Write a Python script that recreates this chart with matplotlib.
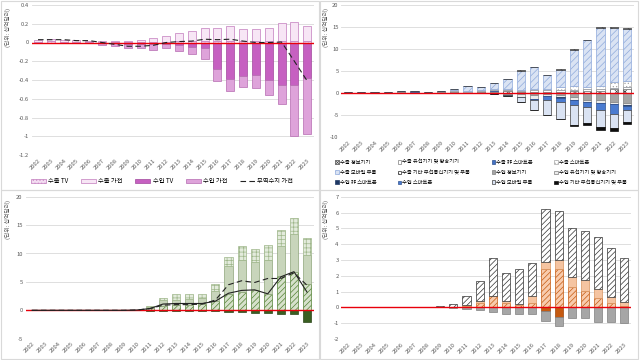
import numpy as np
import matplotlib
matplotlib.use("Agg")
import matplotlib.pyplot as plt
from matplotlib.patches import Patch, Rectangle
from matplotlib.lines import Line2D
from matplotlib.ticker import FuncFormatter, MultipleLocator

plt.rcParams['font.family'] = ['Noto Sans CJK KR', 'DejaVu Sans']
plt.rcParams['axes.unicode_minus'] = False
plt.rcParams['hatch.linewidth'] = 0.5

# years on the x axis
years = [str(y) for y in range(2002, 2024)]

# panel 1: TV / home appliances (unit: billion USD)
tv_exp = [0.01, 0.02, 0.01, 0.01, 0.01, 0.01, 0.01, 0.01, 0.01, 0.01, 0.01,
          0.02, 0.02, 0.02, 0.02, 0.02, 0.02, 0.02, 0.02, 0.02, 0.02, 0.02]
app_exp = [0.02, 0.02, 0.02, 0.02, 0.01, 0.01, 0.01, 0.01, 0.02, 0.04, 0.06,
           0.08, 0.10, 0.13, 0.14, 0.16, 0.12, 0.125, 0.14, 0.19, 0.20, 0.16]
tv_imp = [0, 0, 0, 0, 0, -0.01, -0.01, -0.02, -0.02, -0.02, -0.02,
          -0.03, -0.05, -0.06, -0.28, -0.39, -0.36, -0.35, -0.40, -0.45, -0.45, -0.38]
app_imp = [0, -0.01, -0.01, -0.01, -0.01, -0.02, -0.03, -0.04, -0.04, -0.06, -0.04,
           -0.06, -0.07, -0.12, -0.13, -0.13, -0.11, -0.13, -0.16, -0.21, -0.55, -0.60]
app_bal = [0.03, 0.03, 0.03, 0.02, 0.02, 0.0, -0.02, -0.04, -0.04, -0.03, 0.0,
           0.01, 0.015, 0.035, 0.03, 0.035, 0.015, 0.0, 0.0, 0.005, -0.2, -0.41]

# panel 2: ICT devices
ict_labels = ['수출 정보기기', '수출 유선기기 및 방송기기', '수출 非 스마트폰', '수출 스마트폰',
              '수출 모바일 부품', '수출 기타 무선통신기기 및 부품', '수입 정보기기', '수입 유선기기 및 방송기기',
              '수입 非 스마트폰', '수입 스마트폰', '수입 모바일 부품', '수입 기타 무선통신기기 및 부품']
exp_info = [0.1, 0.1, 0.1, 0.1, 0.2, 0.1, 0.1, 0.2, 0.2, 0.1, 0.2,
            0.3, 0.4, 0.3, 0.3, 0.3, 0.3, 0.4, 0.5, 0.5, 0.8, 1.0]
exp_wire = [0.05, 0.05, 0.1, 0.1, 0.2, 0.2, 0.1, 0.2, 0.2, 0.1, 0.2,
            0.2, 0.2, 0.2, 0.3, 0.3, 0.4, 0.3, 0.3, 0.3, 0.4, 0.4]
exp_nonsmart = [0.05, 0.05, 0.1, 0.1, 0.1, 0.1, 0.1, 0.1, 0.1, 0.1, 0.1,
                0.1, 0.1, 0.05, 0.05, 0.05, 0.05, 0.05, 0.05, 0.05, 0.05, 0.05]
exp_smart = [0, 0, 0, 0, 0, 0, 0, 0, 0.1, 0.1, 0.1,
             0.2, 0.1, 0.2, 0.3, 0.3, 0.6, 0.8, 0.6, 0.7, 1.2, 1.3]
exp_mobile = [0, 0, 0, 0, 0, 0, 0, 0, 0.4, 1.2, 0.8,
              1.5, 2.3, 4.35, 4.85, 3.15, 3.95, 8.25, 10.55, 13.25, 12.35, 11.85]
exp_etc = [0, 0, 0, 0, 0, 0, 0, 0, 0, 0, 0,
           0, 0, 0.1, 0.1, 0.1, 0.1, 0.1, 0.1, 0.1, 0.1, 0.1]
imp_info = [0, 0, 0, 0, 0, 0, 0, 0, 0, 0, -0.05,
            -0.1, -0.2, -0.3, -0.5, -0.3, -0.4, -0.8, -1.5, -1.7, -2.0, -2.3]
imp_wire = [0, 0, 0, 0, 0, 0, 0, 0, 0, 0, -0.05,
            -0.1, -0.2, -0.5, -0.8, -0.3, -0.6, -0.7, -0.5, -0.5, -0.4, -0.5]
imp_nonsmart = [0, 0, 0, 0, 0, 0, 0, 0, 0, 0, 0,
                0, 0, 0, -0.05, -0.05, -0.05, -0.05, -0.05, -0.05, -0.05, -0.05]
imp_smart = [0, 0, 0, 0, 0, 0, 0, 0, 0, 0, 0,
             0, 0, -0.1, -0.3, -1.0, -1.1, -1.2, -1.1, -1.7, -2.4, -1.1]
imp_mobile = [0, 0, 0, 0, 0, 0, 0, 0, 0, 0, 0,
              -0.1, -0.2, -1.1, -2.15, -3.25, -3.65, -4.55, -3.65, -3.75, -3.05, -2.65]
imp_etc = [0, 0, 0, 0, 0, 0, 0, 0, 0, 0, 0,
           0, 0, 0, 0, -0.1, -0.2, -0.3, -0.4, -0.6, -0.7, -0.5]

# panel 3: green stacked series
g_low = [0.02, 0.02, 0.02, 0.02, 0.02, 0.02, 0.02, 0.02, 0.05, 0.4, 0.8,
         1.0, 1.0, 1.1, 1.7, 2.8, 3.3, 3.5, 2.9, 6.0, 6.8, 4.7]
g_mid = [0, 0, 0, 0, 0, 0, 0, 0, 0.05, 0.2, 1.1,
         0.9, 1.0, 1.0, 1.7, 5.0, 5.6, 5.0, 6.0, 5.3, 6.6, 5.0]
g_top = [0, 0, 0, 0, 0, 0, 0, 0, 0, 0.1, 0.3,
         1.0, 0.9, 0.8, 1.3, 1.6, 2.4, 2.3, 2.6, 2.8, 2.8, 3.0]
g_neg = [0, 0, 0, 0, 0, 0, 0, 0, 0, -0.05, -0.05,
         -0.05, -0.05, -0.05, -0.05, -0.3, -0.3, -0.4, -0.5, -0.7, -0.7, -2.0]
g_dash = [0, 0, 0, 0, 0, 0, 0, 0, 0.05, 0.3, 0.9,
          1.0, 1.0, 1.1, 1.8, 4.5, 5.2, 4.9, 5.6, 5.6, 6.6, 4.4]
g_solid = [0, 0, 0, 0, 0, 0, 0, 0, 0.05, 0.3, 1.1,
           1.2, 1.2, 1.2, 1.6, 3.0, 3.5, 3.6, 2.9, 5.9, 6.8, 3.2]

# panel 4: orange / gray stacked series
o_low = [0.01, 0.01, 0.01, 0.01, 0.01, 0.01, 0.01, 0.05, 0.05, 0.1, 0.3,
         0.7, 0.3, 0.15, 0.3, 2.4, 2.4, 1.3, 1.05, 0.6, 0.3, 0.1]
o_mid = [0, 0, 0, 0, 0, 0, 0, 0, 0, 0.05, 0.1,
         0.05, 0.1, 0.05, 0.4, 0.5, 0.6, 0.65, 0.7, 0.55, 0.35, 0.25]
o_top = [0.02, 0.02, 0.03, 0.03, 0.03, 0.03, 0.03, 0.05, 0.15, 0.55, 1.25,
         2.35, 1.8, 2.2, 2.1, 3.3, 3.1, 3.05, 3.05, 3.3, 3.1, 2.75]
o_neg = [0, 0, 0, 0, 0, 0, 0, 0, 0, 0, 0,
         0, 0, 0, 0, -0.2, -0.6, 0, 0, 0, 0, 0]
o_gray = [0, 0, 0, 0, 0, 0, 0, 0, -0.05, -0.1, -0.15,
          -0.3, -0.4, -0.45, -0.4, -0.65, -0.6, -0.7, -0.7, -0.9, -0.95, -1.0]

x = np.arange(len(years))
W, H = 640, 360


def rect(l, r, t, b):
    return [l / W, 1 - b / H, (r - l) / W, (b - t) / H]


def setup(ax, lo, hi, step):
    ax.set_xlim(-0.5, len(years) - 0.5)
    ax.set_ylim(lo, hi)
    ax.yaxis.set_major_locator(MultipleLocator(step))
    ax.yaxis.set_major_formatter(FuncFormatter(lambda v, p: f"{round(v, 6) + 0.0:g}"))
    ax.grid(axis='y', color='#d9d9d9', lw=0.6)
    ax.set_axisbelow(True)
    for s in ax.spines.values():
        s.set_visible(False)
    ax.tick_params(length=0, labelsize=4.2, colors='#595959', pad=2)
    ax.set_xticks(x)
    ax.set_xticklabels(years, rotation=45, ha='right', rotation_mode='anchor')
    ax.axhline(0, color='#e8000b', lw=1.0, zorder=6)


def stack(ax, series, styles, width=0.62):
    pos = np.zeros(len(years))
    neg = np.zeros(len(years))
    for vals, st in zip(series, styles):
        v = np.array(vals, dtype=float)
        if v.sum() >= 0:
            ax.bar(x, v, width, bottom=pos, lw=0.5, zorder=3, **st)
            pos += v
        else:
            ax.bar(x, v, width, bottom=neg, lw=0.5, zorder=3, **st)
            neg += v


fig = plt.figure(figsize=(6.4, 3.6), dpi=100)

# chart area borders
for (l, t, w, h) in [(0.5, 0.5, 318, 189), (320, 0.5, 318, 189),
                     (0.5, 190, 318, 169), (320, 190, 318, 169)]:
    fig.add_artist(Rectangle((l / W, 1 - (t + h) / H), w / W, h / H,
                             transform=fig.transFigure, fill=False,
                             ec='#d9d9d9', lw=0.8))

# ---- panel 1
ax1 = fig.add_axes(rect(31.6, 313.6, 5, 155))
setup(ax1, -1.2, 0.4, 0.2)
st1 = [dict(color='#f3dcf1', edgecolor='#c27bbd', hatch='.....'),
       dict(color='#f7e6f5', edgecolor='#c27bbd'),
       dict(color='#c660c1', edgecolor='#a1479c'),
       dict(color='#dea3da', edgecolor='#b56bb0')]
stack(ax1, [tv_exp, app_exp, tv_imp, app_imp], st1)
ax1.plot(x, app_bal, color='#222222', ls=(0, (5, 3)), lw=0.8, zorder=7)
h1 = [Patch(facecolor=s['color'], edgecolor=s['edgecolor'], hatch=s.get('hatch'), lw=0.5) for s in st1]
h1.append(Line2D([], [], color='#222222', ls=(0, (5, 3)), lw=0.8))
fig.legend(h1, ['수출 TV', '수출 가전', '수입 TV', '수입 가전', '무역수지 가전'],
           ncol=5, loc='center', bbox_to_anchor=(162 / W, 1 - 181 / H),
           fontsize=4.5, frameon=False, handlelength=2.4, handleheight=0.5,
           columnspacing=2.0, handletextpad=0.4)

# ---- panel 2
ax2 = fig.add_axes(rect(341.4, 633.6, 5, 137))
setup(ax2, -10, 20, 5)
st2 = [dict(color='white', edgecolor='#404040', hatch='xxxx'),
       dict(color='white', edgecolor='#7f7f7f'),
       dict(color='#4472c4', edgecolor='#2f528f'),
       dict(color='white', edgecolor='#a6a6a6', hatch='.....'),
       dict(color='#dae3f3', edgecolor='#8faadc', hatch='/////'),
       dict(color='white', edgecolor='#262626', hatch='\\\\\\\\'),
       dict(color='#a5a5a5', edgecolor='#7f7f7f'),
       dict(color='#ebebeb', edgecolor='#7f7f7f'),
       dict(color='#1f3864', edgecolor='#1f3864'),
       dict(color='#4a7bd0', edgecolor='#2f528f'),
       dict(color='#dae3f3', edgecolor='#404040'),
       dict(color='#0d0d0d', edgecolor='#0d0d0d')]
stack(ax2, [exp_info, exp_wire, exp_nonsmart, exp_smart, exp_mobile, exp_etc,
            imp_info, imp_wire, imp_nonsmart, imp_smart, imp_mobile, imp_etc], st2)
h2 = [Patch(facecolor=s['color'], edgecolor=s['edgecolor'], hatch=s.get('hatch'), lw=0.5) for s in st2]
order = [0, 4, 8, 1, 5, 9, 2, 6, 10, 3, 7, 11]
fig.legend([h2[i] for i in order], [ict_labels[i] for i in order],
           ncol=4, loc='upper left', bbox_to_anchor=(335 / W, 1 - 191 / H, 292 / W, 31 / H),
           mode='expand', fontsize=3.8, frameon=False, handlelength=0.7,
           handleheight=0.7, handletextpad=0.2, labelspacing=0.95, borderaxespad=0,
           borderpad=0)

# ---- panel 3
ax3 = fig.add_axes(rect(25.5, 313.6, 196.7, 338.7))
setup(ax3, -5, 20, 5)
st3 = [dict(color='#d6e1cb', edgecolor='#548235', hatch='//////'),
       dict(color='#c8d5bb', edgecolor='#8ea57a'),
       dict(color='#e3ebdc', edgecolor='#9fb78b', hatch='++++'),
       dict(color='#3a5f22', edgecolor='#2b4619')]
stack(ax3, [g_low, g_mid, g_top, g_neg], st3)
ax3.plot(x, g_dash, color='#222222', ls=(0, (5, 3)), lw=0.8, zorder=7)
ax3.plot(x, g_solid, color='#222222', lw=0.8, zorder=7)

# ---- panel 4
ax4 = fig.add_axes(rect(341.4, 631, 196.7, 339))
setup(ax4, -2, 7, 1)
st4 = [dict(color='#f8cbad', edgecolor='#c55a11', hatch='//////'),
       dict(color='#f5c4a1', edgecolor='#d9945f'),
       dict(color='white', edgecolor='#333333', hatch='//////'),
       dict(color='#c55a11', edgecolor='#9c4710'),
       dict(color='#a6a6a6', edgecolor='#7f7f7f')]
stack(ax4, [o_low, o_mid, o_top, o_neg, o_gray], st4)

# axis unit labels
for px, py in [(8, 8), (326, 8), (8, 200), (326, 200)]:
    fig.text(px / W, 1 - py / H, '(단위: 십억달러)', rotation=90, va='top', ha='center',
             fontsize=4.2, color='#595959')

fig.savefig('out.png', dpi=100)
